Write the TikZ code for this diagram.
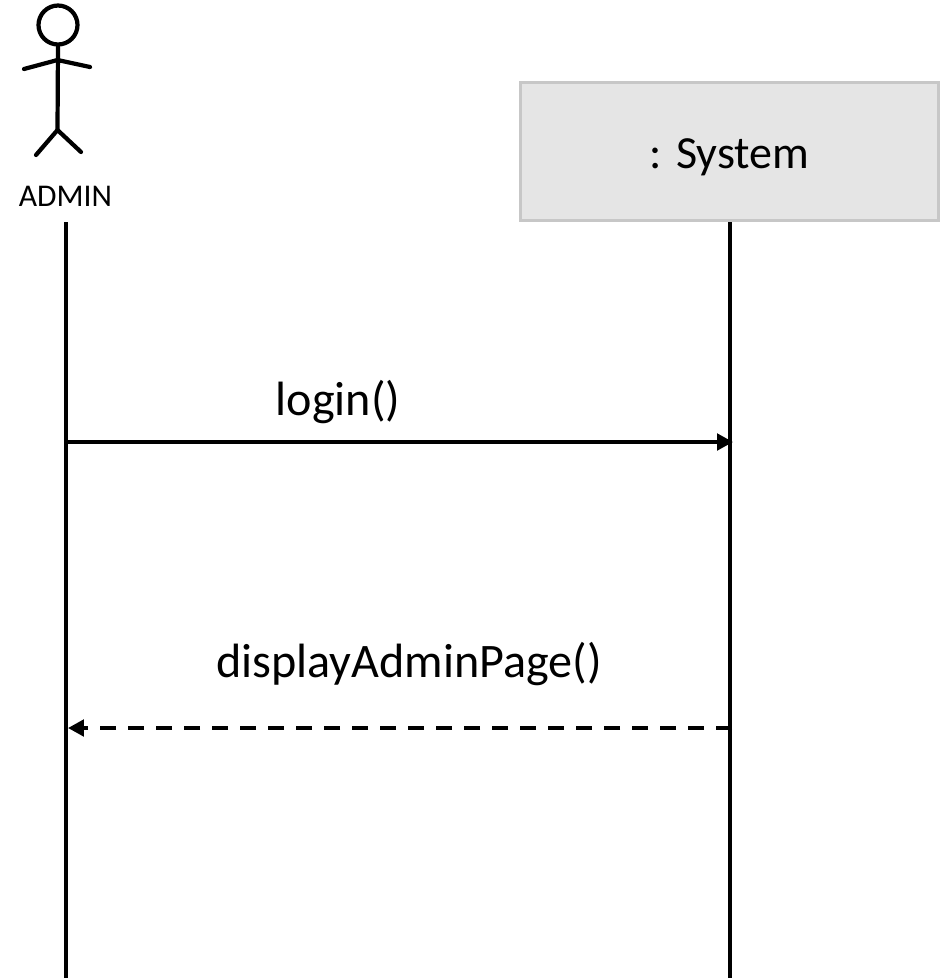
\documentclass[tikz,border=0pt]{standalone}
\usepackage{fontspec}
\setmainfont{Carlito}
\usetikzlibrary{arrows.meta}
\usetikzlibrary{positioning}
\tikzset{
	lifeline/.style={line width=2.5pt},
	message/.style={line width=2.1pt,-{Triangle[length=0.32cm,width=0.33cm]}},
	stick/.style={line width=2.4pt,line cap=round},
	objbox/.style={draw=black!22,fill=black!10,line width=1.7pt,minimum width=8.38cm,minimum height=2.76cm,inner sep=0pt,text height=0.86cm,text depth=0.2cm},
	msglabel/.style={font=\fontsize{27.4}{32}\selectfont}
}
\begin{document}
\begin{tikzpicture}[x=0.02cm,y=-0.02cm]
		\useasboundingbox (0,0) rectangle (950,978);
		
		% actor
		\node[draw,circle,stick,minimum size=0.78cm,inner sep=0pt] (head) at (58,25) {};
		\coordinate (hip) at (57.5,130);
		\coordinate (shoulder) at (57.5,60);
		\coordinate (handL) at (24,69);
		\coordinate (handR) at (90,67);
		\coordinate (footL) at (36,155);
		\coordinate (footR) at (81,152);
		\draw[stick] (head.south)--(hip);
		\draw[stick] (handL)--(shoulder)--(handR);
		\draw[stick] (footL)--(hip)--(footR);
		\node[font=\fontsize{18}{21}\selectfont] (admin) at (65.5,196) {ADMIN};
		
		% object
		\node[objbox,font=\fontsize{26.2}{31}\selectfont] (system) at (729.5,151.5) {: System};
		
		% lifelines
		\coordinate (adminTop) at (66,222);
		\coordinate (adminEnd) at (66,978);
		\coordinate (systemEnd) at (730,978);
		\coordinate (systemTop) at (730,222);
		\draw[lifeline] (adminTop)--(adminEnd);
		\draw[lifeline] (systemTop)--(systemEnd);
		
		% messages
		\coordinate (loginA) at (68,442);
		\coordinate (loginB) at (733,442);
		\coordinate (backA) at (732,728);
		\coordinate (backB) at (68,728);
		\draw[message] (loginA)--(loginB);
		\draw[message,dash pattern=on 0.32cm off 0.24cm] (backA)--(backB);
		
		\node[msglabel] (login) at (338,402) {login()};
		\node[msglabel] (display) at (409,664) {displayAdminPage()};
	\end{tikzpicture}
\end{document}
